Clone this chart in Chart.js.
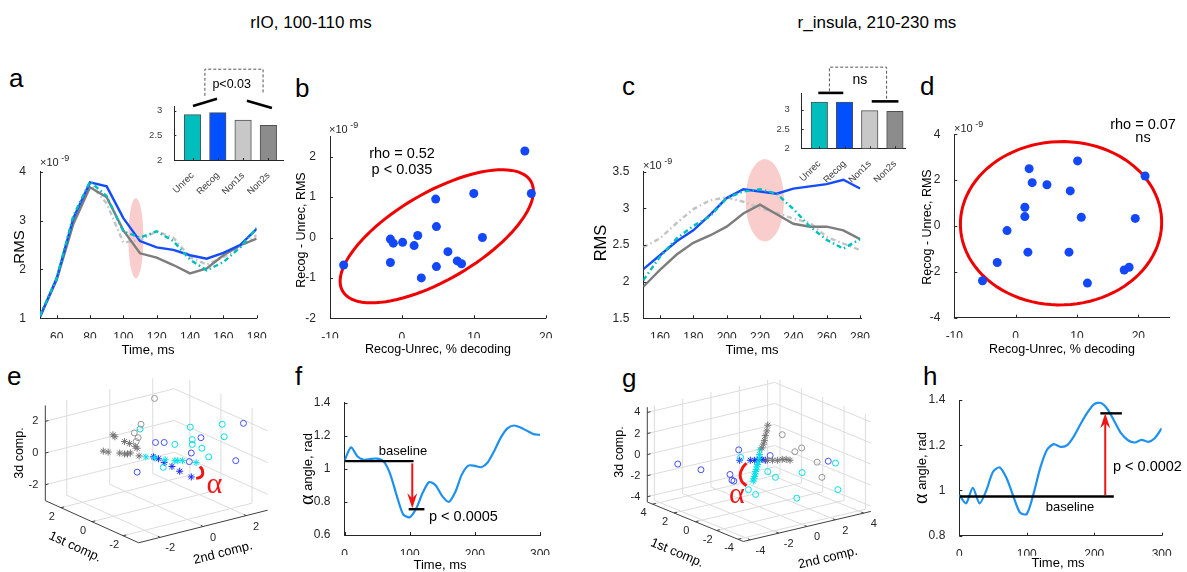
<!DOCTYPE html>
<html lang="en">
<head>
<meta charset="utf-8">
<title>RMS and angle shift</title>
<script src="https://cdn.jsdelivr.net/npm/chart.js@4.4.1/dist/chart.umd.min.js"></script>
<style>
  html, body { margin: 0; padding: 0; background: #fff; }
  #fig { position: relative; width: 1187px; height: 572px; overflow: hidden;
         font-family: "Liberation Sans", Arial, sans-serif; color: #000; }
  #fig canvas { position: absolute; }
  .t { position: absolute; white-space: nowrap; }
  .title { font-size: 17px; line-height: 20px; transform: translateX(-50%); }
  .tag { font-size: 26px; line-height: 30px; }
</style>
</head>
<body>
<div id="fig">
  <div class="t title" style="left:311px; top:13px">rIO, 100-110 ms</div>
  <div class="t title" style="left:877px; top:13px">r_insula, 210-230 ms</div>
  <div class="t tag" style="left:9px; top:63px">a</div>
  <div class="t tag" style="left:295px; top:73px">b</div>
  <div class="t tag" style="left:622px; top:71px">c</div>
  <div class="t tag" style="left:920px; top:71px">d</div>
  <div class="t tag" style="left:7px; top:361px">e</div>
  <div class="t tag" style="left:295px; top:361px">f</div>
  <div class="t tag" style="left:622px; top:363px">g</div>
  <div class="t tag" style="left:923px; top:361px">h</div>
  <canvas id="cA"></canvas>
  <canvas id="cAbar"></canvas>
  <canvas id="cB"></canvas>
  <canvas id="cC"></canvas>
  <canvas id="cCbar"></canvas>
  <canvas id="cD"></canvas>
  <canvas id="cE"></canvas>
  <canvas id="cF"></canvas>
  <canvas id="cG"></canvas>
  <canvas id="cH"></canvas>
</div>
<script>
// ---------------- data ----------------
const barNames = ['Unrec', 'Recog', 'Non1s', 'Non2s'];

// a: rIO RMS (x1e-9)
const aTime  = [50, 60, 70, 80, 90, 100, 110, 120, 130, 140, 150, 160, 170, 180];
const aUnrec = [1.05, 1.82, 3.10, 3.80, 3.50, 2.78, 2.65, 2.78, 2.58, 2.20, 1.98, 2.15, 2.45, 2.85];
const aRecog = [1.03, 1.82, 3.05, 3.78, 3.70, 3.05, 2.58, 2.45, 2.40, 2.29, 2.22, 2.34, 2.50, 2.83];
const aNon1s = [1.05, 1.80, 3.05, 3.75, 3.35, 2.55, 2.60, 2.78, 2.65, 2.25, 2.10, 2.25, 2.45, 2.70];
const aNon2s = [1.03, 1.78, 2.93, 3.68, 3.48, 2.80, 2.33, 2.24, 2.09, 1.92, 2.02, 2.29, 2.49, 2.63];
const aBars  = [2.92, 2.96, 2.81, 2.70];
const aXTicks = [60, 80, 100, 120, 140, 160, 180];
const aYTicks = [1, 2, 3, 4];

// b: rIO, decoding difference vs RMS difference
const bDecod = [17.1, 10.0, 18.0, 4.7, 4.8, 11.2, -1.6, -1.2, 0.1, 2.2, 1.7, -1.6, 6.4, 7.7, 8.3, 4.8, 2.7, -8.1];
const bRms   = [2.14, 1.09, 1.09, 0.95, 0.27, 0.00, -0.04, -0.14, -0.12, 0.05, -0.20, -0.62, -0.35, -0.58, -0.65, -0.72, -1.00, -0.68];
const bXTicks = [-10, 0, 10, 20];
const bYTicks = [-2, -1, 0, 1, 2];

// c: r_insula RMS (x1e-9)
const cTime  = [150, 160, 170, 180, 190, 200, 210, 220, 230, 240, 250, 260, 270, 280];
const cUnrec = [2.02, 2.34, 2.59, 2.76, 2.89, 3.14, 3.23, 3.26, 3.20, 2.99, 2.75, 2.57, 2.45, 2.58];
const cRecog = [2.17, 2.36, 2.55, 2.70, 2.91, 3.14, 3.26, 3.23, 3.20, 3.27, 3.30, 3.33, 3.39, 3.27];
const cNon1s = [2.47, 2.59, 2.80, 2.99, 3.11, 3.15, 3.09, 3.00, 2.94, 2.86, 2.80, 2.61, 2.52, 2.43];
const cNon2s = [1.93, 2.16, 2.37, 2.53, 2.63, 2.75, 2.93, 3.05, 2.92, 2.79, 2.75, 2.75, 2.70, 2.58];
const cBars  = [3.20, 3.20, 2.98, 2.96];
const cXTicks = [160, 180, 200, 220, 240, 260, 280];
const cYTicks = [1.5, 2, 2.5, 3, 3.5];

// d: r_insula, decoding difference vs RMS difference
const dDecod = [21.1, 10.1, 2.2, 2.7, 5.1, 8.9, 1.5, 1.5, 10.7, 19.5, -1.4, 2.0, 8.7, -3.0, 11.7, 17.7, 18.5, -5.4];
const dRms   = [2.18, 2.84, 2.50, 1.89, 1.80, 1.53, 0.82, 0.41, 0.38, 0.33, -0.20, -1.14, -1.14, -1.59, -2.49, -1.92, -1.80, -2.39];
const dXTicks = [-10, 0, 10, 20];
const dYTicks = [-4, -2, 0, 2, 4];

// e, g: component trajectories, in view-plane units of the 3-D axes
const eGrayCirc = [[-2, 62], [-16, 35], [-23, 26], [-19, 21], [-21, 17]];
const eGrayStar = [[-45, 24], [-43, 22], [-33, 17], [-28, 15], [-22, 12], [-20, 10], [-55, 7], [-50, 6], [-38, 5], [-33, 4], [-30, 4], [-27, 5], [-18, 2]];
const eCyanCirc = [[-17, 30], [35, 32], [68, 35], [70, 22], [37, 19], [37, 14], [19, 14], [47, 10], [54, 1], [7, -10]];
const eCyanStar = [[-11, 1], [-2, 0], [9, -2], [19, -3], [22, -3], [27, -3], [41, -5]];
const eBlueCirc = [[90, 36], [46, 21], [-1, 16], [8, 16], [36, 5], [34, -4], [82, -3], [-20, -15]];
const eBlueStar = [[-3, 1], [2, -1], [8, -5], [16, -9], [24, -14], [36, -20]];
const eArc = [[45, -9], [47.5, -13], [47.5, -18], [45, -20.5], [41, -21.5]];

const gGrayCirc = [[24, 26], [37, 8], [44, 12], [60, -3], [65, -19]];
const gGrayStar = [[9, 36], [8, 30], [6.5, 25], [5.5, 20], [4.5, 16], [3, 12], [8.5, -1], [14, -1], [19, -1], [24, 0], [28, 0], [32, -1]];
const gCyanCirc = [[-19, 2], [9, -13], [17, -19], [44.5, -14], [79, -4], [81.5, -32], [-11, -32], [-3.5, -37], [39, -41]];
const gCyanStar = [[1, 10], [0.5, 5], [0, 1], [-1, -3], [-1.5, -5.5], [-2, -8], [-3, -10.5], [-3.5, -13], [-4, -15.5], [-4.5, -18], [-5.5, -20.5], [-6, -23]];
const gBlueCirc = [[-84, -5], [-60, -11], [-21, 10], [-30, -16], [-28, -22], [-26, -23], [11.5, 4], [71.5, -2]];
const gBlueStar = [[-20, -1], [-9, -1], [-4.5, -1], [-2, -1], [0.5, 0], [3, 0], [6.5, -1]];
const gArc = [[-13, -4], [-17, -9], [-19.5, -16], [-18, -23], [-13, -28]];

// f, h: angle between trajectories
const angTime = [0, 10, 20, 30, 40, 50, 60, 70, 80, 90, 100, 110, 120, 130, 140, 150, 160, 170, 180, 190, 200, 210, 220, 230, 240, 250, 260, 270, 280, 290, 300];
const fAngle = [1.05, 1.13, 1.075, 1.055, 1.06, 1.062, 1.045, 0.97, 0.84, 0.725, 0.707, 0.76, 0.855, 0.92, 0.90, 0.835, 0.80, 0.86, 0.965, 1.02, 1.018, 1.01, 1.04, 1.11, 1.19, 1.245, 1.262, 1.25, 1.23, 1.21, 1.205];
const hAngle = [0.98, 0.943, 1.012, 0.943, 1.0, 1.083, 1.102, 1.055, 0.975, 0.902, 0.896, 0.985, 1.10, 1.18, 1.205, 1.193, 1.20, 1.24, 1.295, 1.345, 1.382, 1.387, 1.358, 1.305, 1.252, 1.222, 1.212, 1.224, 1.215, 1.232, 1.275];
const angXTicks = [0, 100, 200, 300];
const fYTicks = [0.6, 0.8, 1, 1.2, 1.4];
const hYTicks = [0.8, 1, 1.2, 1.4];

// ---------------- styling ----------------
const FONT = '"Liberation Sans", Arial, sans-serif';
const SERIF = '"Liberation Serif", "DejaVu Serif", serif';
const INK = '#262626';
const C_UNREC = 'rgb(0,190,190)';
const C_RECOG = 'rgb(20,75,255)';
const C_NON1 = 'rgb(195,195,195)';
const C_NON2 = 'rgb(125,125,125)';
const C_DOT = 'rgb(18,72,250)';
const C_ANG = 'rgb(30,144,240)';
const RED = 'rgb(240,20,20)';
const DASHDOT = [5, 3, 1.5, 3];
const YW = 34, XH = 20;      // fixed room for the y and x tick labels

Chart.defaults.font.family = FONT;

// ---------------- helpers ----------------
function axis(min, max, ticks, size, horiz, labelFn, rot) {
  return {
    type: 'linear', min, max, offset: false,
    afterBuildTicks: s => { s.ticks = ticks.map(v => ({ value: v })); },
    afterFit: s => {
      const room = s.chart.$room;
      if (horiz) s.height = room.xh; else s.width = room.yw;
      s.paddingLeft = s.paddingRight = s.paddingTop = s.paddingBottom = 0;
    },
    grid: { display: false },
    border: { display: true, color: INK, width: 1 },
    ticks: {
      color: INK, font: { size }, padding: horiz ? 4 : 6, autoSkip: false,
      maxRotation: rot || 0, minRotation: rot || 0,
      callback: labelFn || (v => String(v))
    }
  };
}

function drawText(ctx, it, r) {
  ctx.save();
  ctx.translate(it.x - r.x, it.y - r.y);
  if (it.rot) ctx.rotate(it.rot * Math.PI / 180);
  ctx.fillStyle = it.color || '#000';
  ctx.textBaseline = 'middle';
  ctx.textAlign = 'left';
  const parts = it.parts || [{ t: it.text, s: it.size }];
  let total = 0;
  parts.forEach(p => {
    ctx.font = p.s + 'px ' + (p.fam || FONT);
    p.w = ctx.measureText(p.t).width;
    total += p.w;
  });
  let x = it.align === 'left' ? 0 : it.align === 'right' ? -total : -total / 2;
  parts.forEach(p => {
    ctx.font = p.s + 'px ' + (p.fam || FONT);
    ctx.fillText(p.t, x, p.dy || 0);
    x += p.w;
  });
  ctx.restore();
}

// "x10^-9" exponent tag sitting on top of an axis
function expTag(x, y) {
  return { x, y, align: 'left', color: INK, parts: [{ t: '\u00d710', s: 11 }, { t: ' -9', s: 9, dy: -4 }] };
}

function textLayer(region, items) {
  return { id: 'textLayer', afterDraw(chart) { items.forEach(it => drawText(chart.ctx, it, region)); } };
}

function ticksIn(len) {
  return {
    id: 'ticksIn',
    afterDraw(chart) {
      const ctx = chart.ctx, a = chart.chartArea;
      ctx.save();
      ctx.strokeStyle = INK; ctx.lineWidth = 1;
      ctx.beginPath();
      ['x', 'y'].forEach(k => {
        const s = chart.scales[k];
        s.ticks.forEach(t => {
          const p = Math.round(s.getPixelForValue(t.value)) + 0.5;
          if (k === 'x') { ctx.moveTo(p, a.bottom); ctx.lineTo(p, a.bottom - len); }
          else { ctx.moveTo(a.left, p); ctx.lineTo(a.left + len, p); }
        });
      });
      ctx.stroke();
      ctx.restore();
    }
  };
}

// ellipse given by centre and two conjugate semi-axes, all in data units
function ellipsePath(ctx, xs, ys, c, a, b) {
  const cx = xs.getPixelForValue(c[0]), cy = ys.getPixelForValue(c[1]);
  const ax = xs.getPixelForValue(c[0] + a[0]) - cx, ay = ys.getPixelForValue(c[1] + a[1]) - cy;
  const bx = xs.getPixelForValue(c[0] + b[0]) - cx, by = ys.getPixelForValue(c[1] + b[1]) - cy;
  ctx.beginPath();
  for (let i = 0; i <= 96; i++) {
    const t = i / 96 * Math.PI * 2, co = Math.cos(t), si = Math.sin(t);
    const x = cx + co * ax + si * bx, y = cy + co * ay + si * by;
    if (i) ctx.lineTo(x, y); else ctx.moveTo(x, y);
  }
  ctx.closePath();
}

function blob(c, a, b) {
  return {
    id: 'blob',
    beforeDatasetsDraw(chart) {
      const ctx = chart.ctx;
      ctx.save();
      ctx.fillStyle = 'rgb(250,205,205)';
      ellipsePath(ctx, chart.scales.x, chart.scales.y, c, a, b);
      ctx.fill();
      ctx.restore();
    }
  };
}

function ring(c, a, b) {
  return {
    id: 'ring',
    beforeDatasetsDraw(chart) {
      const ctx = chart.ctx;
      ctx.save();
      ctx.strokeStyle = 'rgb(240,0,0)'; ctx.lineWidth = 3;
      ellipsePath(ctx, chart.scales.x, chart.scales.y, c, a, b);
      ctx.stroke();
      ctx.restore();
    }
  };
}

// significance bars above the inset bar plots
function sigMarks(lines, bracket, label) {
  return {
    id: 'sig',
    afterDraw(chart) {
      const xs = chart.scales.x, ys = chart.scales.y, ctx = chart.ctx;
      const X = v => xs.getPixelForValue(v), Y = v => ys.getPixelForValue(v);
      ctx.save();
      ctx.strokeStyle = '#000'; ctx.lineWidth = 2.6;
      lines.forEach(s => {
        ctx.beginPath(); ctx.moveTo(X(s[0]), Y(s[1])); ctx.lineTo(X(s[2]), Y(s[3])); ctx.stroke();
      });
      ctx.strokeStyle = '#555'; ctx.lineWidth = 1; ctx.setLineDash([3, 2]);
      ctx.beginPath();
      bracket.forEach((p, i) => i ? ctx.lineTo(X(p[0]), Y(p[1])) : ctx.moveTo(X(p[0]), Y(p[1])));
      ctx.stroke();
      ctx.setLineDash([]);
      ctx.fillStyle = '#000'; ctx.font = label.size + 'px ' + FONT;
      ctx.textAlign = 'center'; ctx.textBaseline = 'middle';
      ctx.fillText(label.text, X(label.x), Y(label.y));
      ctx.restore();
    }
  };
}

// baseline, shifted level and red arrow of the angle plots
function shiftMarks(m) {
  return {
    id: 'shift',
    afterDatasetsDraw(chart) {
      const xs = chart.scales.x, ys = chart.scales.y, ctx = chart.ctx;
      const X = v => xs.getPixelForValue(v), Y = v => ys.getPixelForValue(v);
      ctx.save();
      ctx.strokeStyle = '#000'; ctx.lineWidth = 2.4;
      [m.base, m.step].forEach(s => {
        ctx.beginPath(); ctx.moveTo(X(s[0]), Y(s[2])); ctx.lineTo(X(s[1]), Y(s[2])); ctx.stroke();
      });
      const ax = X(m.arrow[0]), y0 = Y(m.arrow[1]), y1 = Y(m.arrow[2]), d = Math.sign(y1 - y0);
      ctx.strokeStyle = RED; ctx.fillStyle = RED; ctx.lineWidth = 2;
      ctx.beginPath(); ctx.moveTo(ax, y0); ctx.lineTo(ax, y1 - d * 9); ctx.stroke();
      ctx.beginPath();
      ctx.moveTo(ax, y1); ctx.lineTo(ax - 5, y1 - d * 15); ctx.lineTo(ax, y1 - d * 10); ctx.lineTo(ax + 5, y1 - d * 15);
      ctx.closePath(); ctx.fill();
      ctx.restore();
    }
  };
}

// back planes, grid and front edges of a 3-D box seen from the lower front corner
function box3d(g) {
  return {
    id: 'box3d',
    beforeDatasetsDraw(chart) {
      const xs = chart.scales.x, ys = chart.scales.y, ctx = chart.ctx;
      const { A, B, C, R, ticks } = g;
      const P = (c1, c2, z) => [
        xs.getPixelForValue(c1 * A[0] + c2 * B[0] + z * C[0]),
        ys.getPixelForValue(c1 * A[1] + c2 * B[1] + z * C[1])
      ];
      const seg = (p, q) => { ctx.moveTo(p[0], p[1]); ctx.lineTo(q[0], q[1]); };
      ctx.save();
      ctx.strokeStyle = '#dcdcdc'; ctx.lineWidth = 1;
      ctx.beginPath();
      ticks.forEach(t => {
        seg(P(t, -R, -R), P(t, R, -R));   // floor
        seg(P(-R, t, -R), P(R, t, -R));
        seg(P(R, t, -R), P(R, t, R));     // wall c1 = R
        seg(P(R, -R, t), P(R, R, t));
        seg(P(t, R, -R), P(t, R, R));     // wall c2 = R
        seg(P(-R, R, t), P(R, R, t));
      });
      ctx.stroke();
      ctx.strokeStyle = '#404040';
      ctx.beginPath();
      seg(P(R, -R, -R), P(R, -R, R));
      seg(P(R, -R, -R), P(-R, -R, -R));
      seg(P(-R, -R, -R), P(-R, R, -R));
      const k = R * 0.05;
      ticks.forEach(t => {
        seg(P(R, -R, t), P(R, -R + k, t));
        seg(P(t, -R, -R), P(t, -R + k, -R));
        seg(P(-R, t, -R), P(-R + k, t, -R));
      });
      ctx.stroke();
      ctx.fillStyle = INK; ctx.font = '11px ' + FONT; ctx.textBaseline = 'middle';
      ticks.forEach(t => {
        let p = P(R, -R, t);
        ctx.textAlign = 'right'; ctx.fillText(String(t), p[0] - 7, p[1]);
        ctx.textAlign = 'center';
        p = P(t, -R, -R); ctx.fillText(String(t), p[0] - 9, p[1] + 9);
        p = P(-R, t, -R); ctx.fillText(String(t), p[0] + 10, p[1] + 11);
      });
      ctx.restore();
    },
    afterDatasetsDraw(chart) {
      const ctx = chart.ctx;
      ctx.save();
      ctx.fillStyle = RED; ctx.font = '30px ' + SERIF;
      ctx.textAlign = 'center'; ctx.textBaseline = 'middle';
      ctx.fillText('\u03b1', chart.scales.x.getPixelForValue(g.alpha[0]), chart.scales.y.getPixelForValue(g.alpha[1]));
      ctx.restore();
    }
  };
}

// remember how much room the tick labels get before the first layout pass
const roomPlugin = { id: 'room', beforeInit(chart, args, o) { chart.$room = chart.config._config.room; } };

function build(id, region, area, type, datasets, scales, plugins, texts) {
  const cv = document.getElementById(id);
  cv.width = region.w; cv.height = region.h;
  cv.style.left = region.x + 'px'; cv.style.top = region.y + 'px';
  const room = { yw: (area && area.yw) || YW, xh: (area && area.xh) || XH };
  const padding = area ? {
    left: area.l - region.x - room.yw, top: area.t - region.y,
    right: region.x + region.w - area.r, bottom: region.y + region.h - area.b - room.xh
  } : 0;
  return new Chart(cv, {
    type,
    room,
    data: { datasets },
    options: {
      responsive: false, animation: false, events: [],
      layout: { padding },
      plugins: { legend: { display: false }, tooltip: { enabled: false } },
      scales
    },
    plugins: [roomPlugin].concat(plugins, texts ? [textLayer(region, texts)] : [])
  });
}

const xy = (xs, ys) => ys.map((y, i) => ({ x: xs[i], y }));
const pts = arr => arr.map(p => ({ x: p[0], y: p[1] }));

function rmsSets(t, unrec, recog, non1, non2) {
  return [
    { data: xy(t, unrec), borderColor: C_UNREC, borderDash: DASHDOT },
    { data: xy(t, recog), borderColor: C_RECOG },
    { data: xy(t, non2), borderColor: C_NON2 },
    { data: xy(t, non1), borderColor: C_NON1, borderDash: DASHDOT }
  ].map(d => Object.assign({ borderWidth: 2.4, pointRadius: 0, tension: 0, fill: false }, d));
}

function barSet(vals) {
  return [{
    data: xy([1, 2, 3, 4], vals),
    backgroundColor: [C_UNREC, 'rgb(0,80,255)', 'rgb(200,200,200)', 'rgb(140,140,140)'],
    borderColor: '#505050', borderWidth: 1, barThickness: 16.5
  }];
}

function barAxes(xmin, xmax, ymax) {
  const x = axis(xmin, xmax, [1, 2, 3, 4], 9.5, true, v => barNames[v - 1], 45);
  const y = axis(2, ymax, [2, 2.5, 3], 9.5, false);
  x.ticks.color = y.ticks.color = '#404040';
  x.ticks.padding = 2; y.ticks.padding = 4;
  return { x, y };
}

function scatterSet(xs, ys) {
  return [{ data: xy(xs, ys), pointRadius: 4.5, pointBackgroundColor: C_DOT, pointBorderWidth: 0, borderColor: C_DOT }];
}

function angleSet(vals) {
  return [{ data: xy(angTime, vals), borderColor: C_ANG, borderWidth: 2.2, pointRadius: 0, tension: 0.25, fill: false }];
}

function cloud(arr, color, star) {
  return {
    data: pts(arr), pointStyle: star ? 'star' : 'circle', pointRadius: star ? 3.5 : 3,
    pointBorderColor: color, borderColor: color, pointBackgroundColor: 'rgba(0,0,0,0)',
    backgroundColor: 'rgba(0,0,0,0)', pointBorderWidth: 1
  };
}

function arcSet(arr) {
  return { data: pts(arr), showLine: true, pointRadius: 0, borderColor: RED, borderWidth: 3, tension: 0.4 };
}

function build3d(id, region, origin, geo, sets, texts) {
  const scales = {
    x: { type: 'linear', display: false, min: region.x - origin[0], max: region.x + region.w - origin[0] },
    y: { type: 'linear', display: false, min: origin[1] - region.y - region.h, max: origin[1] - region.y }
  };
  return build(id, region, null, 'scatter', sets, scales, [box3d(geo)], texts);
}

// ---------------- a ----------------
build('cA', { x: 0, y: 150, w: 280, h: 215 }, { l: 40, t: 171.7, r: 256.7, b: 318.3 }, 'line',
  rmsSets(aTime, aUnrec, aRecog, aNon1s, aNon2s),
  { x: axis(50, 180, aXTicks, 12, true), y: axis(1, 4, aYTicks, 12, false) },
  [blob([107.5, 2.64], [4.5, 0], [0, 0.82]), ticksIn(3)],
  [{ text: 'RMS', x: 20, y: 247, size: 15, rot: -90 },
   { text: 'Time, ms', x: 148, y: 350, size: 13 },
   expTag(40, 163)]);

build('cAbar', { x: 135, y: 60, w: 160, h: 150 }, { l: 174.3, t: 106.7, r: 283.3, b: 160, xh: 34 }, 'bar',
  barSet(aBars), barAxes(0.28, 4.59, 3.08),
  [ticksIn(2), sigMarks([[1.02, 3.095, 1.97, 3.24], [3.15, 3.2, 4.14, 3.055]],
    [[1.49, 3.30], [1.49, 3.84], [3.79, 3.84], [3.79, 3.35]], { text: 'p<0.03', x: 2.55, y: 3.52, size: 12.5 })]);

// ---------------- b ----------------
build('cB', { x: 285, y: 120, w: 280, h: 245 }, { l: 330, t: 136.5, r: 545.7, b: 318.3 }, 'scatter',
  scatterSet(bDecod, bRms),
  { x: axis(-10, 20, bXTicks, 12, true), y: axis(-2, 2.5, bYTicks, 12, false) },
  [ring([4.85, 0.03], [13.09, 1.36], [-3.06, 0.93]), ticksIn(3)],
  [{ text: 'Recog - Unrec, RMS', x: 302, y: 230, size: 12.5, rot: -90 },
   { text: 'Recog-Unrec, % decoding', x: 438, y: 350, size: 12.5 },
   { text: 'rho = 0.52', x: 402, y: 154, size: 14.5 },
   { text: 'p < 0.035', x: 402, y: 170, size: 14.5 },
   expTag(329, 130)]);

// ---------------- c ----------------
build('cC', { x: 590, y: 150, w: 290, h: 215 }, { l: 643.3, t: 171.7, r: 861.7, b: 318.3 }, 'line',
  rmsSets(cTime, cUnrec, cRecog, cNon1s, cNon2s),
  { x: axis(150, 281, cXTicks, 12, true), y: axis(1.5, 3.5, cYTicks, 12, false) },
  [blob([222.9, 3.11], [11.5, 0], [0, 0.56]), ticksIn(3)],
  [{ text: 'RMS', x: 601, y: 243, size: 16.5, rot: -90 },
   { text: 'Time, ms', x: 752, y: 350, size: 13 },
   expTag(643, 166)]);

build('cCbar', { x: 760, y: 55, w: 160, h: 145 }, { l: 801.7, t: 93.3, r: 905, b: 148.3, xh: 34 }, 'bar',
  barSet(cBars), barAxes(0.30, 4.40, 3.43),
  [ticksIn(2), sigMarks([[0.96, 3.44, 1.95, 3.44], [3.08, 3.22, 4.14, 3.22]],
    [[1.40, 3.48], [1.40, 4.11], [3.67, 4.11], [3.67, 3.26]], { text: 'ns', x: 2.61, y: 3.78, size: 14 })]);

// ---------------- d ----------------
build('cD', { x: 905, y: 110, w: 282, h: 255 }, { l: 954.3, t: 134.3, r: 1169, b: 317.7 }, 'scatter',
  scatterSet(dDecod, dRms),
  { x: axis(-10, 25, dXTicks, 12, true), y: axis(-4, 4, dYTicks, 12, false) },
  [ring([7.4, 0.12], [16.4, 0.15], [-0.5, 3.56]), ticksIn(3)],
  [{ text: 'Recog - Unrec, RMS', x: 928, y: 227, size: 12.5, rot: -90 },
   { text: 'Recog-Unrec, % decoding', x: 1062, y: 350, size: 12.5 },
   { text: 'rho = 0.07', x: 1143, y: 125, size: 14.5 },
   { text: 'ns', x: 1143, y: 138, size: 14.5 },
   expTag(954, 129)]);

// ---------------- e ----------------
build3d('cE', { x: 0, y: 335, w: 300, h: 237 }, [156.7, 458],
  { A: [-16.1, 7.33], B: [22.23, 5.67], C: [0, 16.57], R: 3, ticks: [-2, 0, 2], alpha: [60, -29] },
  [cloud(eGrayCirc, 'rgb(150,150,150)'), cloud(eGrayStar, 'rgb(115,115,115)', true),
   cloud(eCyanCirc, 'rgb(0,225,235)'), cloud(eCyanStar, 'rgb(0,225,235)', true),
   cloud(eBlueCirc, 'rgb(70,80,250)'), cloud(eBlueStar, 'rgb(20,40,245)', true), arcSet(eArc)],
  [{ text: '3d comp.', x: 20, y: 453, size: 12.5, rot: -90 },
   { text: '1st comp.', x: 75, y: 547, size: 13, rot: 24.5 },
   { text: '2nd comp.', x: 223, y: 553, size: 13, rot: -14.3 }]);

// ---------------- f ----------------
build('cF', { x: 295, y: 390, w: 270, h: 182 }, { l: 344.5, t: 402.7, r: 540, b: 535 }, 'line',
  angleSet(fAngle),
  { x: axis(0, 300, angXTicks, 12, true), y: axis(0.6, 1.4, fYTicks, 12, false) },
  [shiftMarks({ base: [1, 106, 1.047], step: [98.5, 122.6, 0.756], arrow: [104, 1.033, 0.762] }), ticksIn(3)],
  [{ x: 308, y: 469, rot: -90, parts: [{ t: '\u03b1', s: 20, fam: SERIF }, { t: ' angle, rad', s: 13 }] },
   { text: 'Time, ms', x: 440, y: 565, size: 13 },
   { text: 'baseline', x: 403, y: 451, size: 13 },
   { text: 'p < 0.0005', x: 429, y: 517, size: 14.5, align: 'left' }]);

// ---------------- g ----------------
build3d('cG', { x: 590, y: 380, w: 310, h: 192 }, [759.5, 458.4],
  { A: [-11.03, 4.63], B: [14.63, 3.52], C: [0, 11.11], R: 4.5, ticks: [-4, -2, 0, 2, 4], alpha: [-23, -38] },
  [cloud(gGrayCirc, 'rgb(150,150,150)'), cloud(gGrayStar, 'rgb(115,115,115)', true),
   cloud(gCyanCirc, 'rgb(0,225,235)'), cloud(gCyanStar, 'rgb(0,225,235)', true),
   cloud(gBlueCirc, 'rgb(70,80,250)'), cloud(gBlueStar, 'rgb(20,40,245)', true), arcSet(gArc)],
  [{ text: '3d comp.', x: 620, y: 452, size: 12.5, rot: -90 },
   { text: '1st comp.', x: 677, y: 553, size: 13, rot: 22.8 },
   { text: '2nd comp.', x: 828, y: 558, size: 13, rot: -13.5 }]);

// ---------------- h ----------------
build('cH', { x: 905, y: 390, w: 282, h: 182 }, { l: 959.3, t: 400, r: 1161.7, b: 535.7 }, 'line',
  angleSet(hAngle),
  { x: axis(0, 300, angXTicks, 12, true), y: axis(0.8, 1.4, hYTicks, 12, false) },
  [shiftMarks({ base: [1, 229, 0.973], step: [209, 241, 1.341], arrow: [216.3, 0.98, 1.341] }), ticksIn(3)],
  [{ x: 922, y: 468, rot: -90, parts: [{ t: '\u03b1', s: 20, fam: SERIF }, { t: ' angle, rad', s: 13 }] },
   { text: 'Time, ms', x: 1058, y: 563, size: 13 },
   { text: 'baseline', x: 1070, y: 507, size: 13 },
   { text: 'p < 0.0002', x: 1113, y: 467, size: 14.5, align: 'left' }]);
</script>
</body>
</html>
